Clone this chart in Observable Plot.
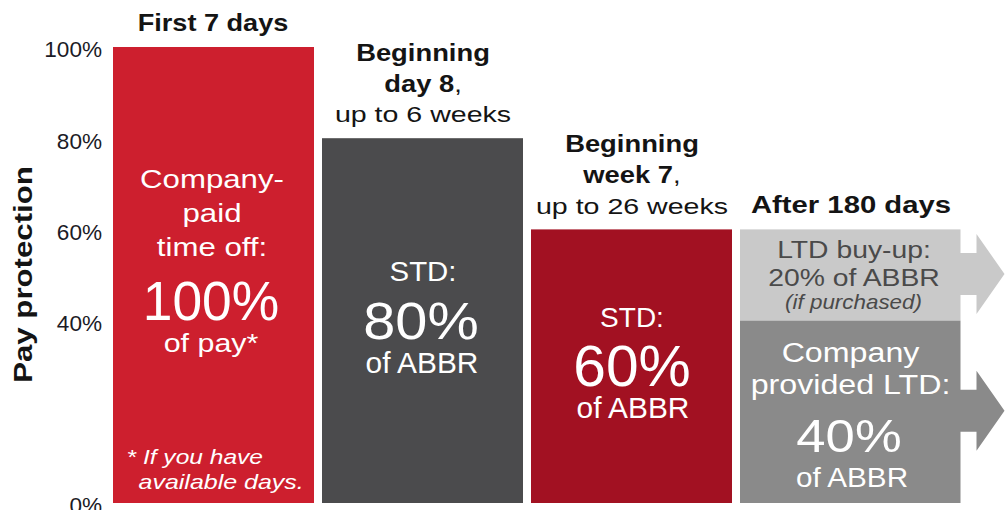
<!DOCTYPE html>
<html><head><meta charset="utf-8">
<script src="https://cdn.jsdelivr.net/npm/d3@7"></script>
<script src="https://cdn.jsdelivr.net/npm/@observablehq/plot@0.6"></script>
<style>html,body{margin:0;padding:0;background:#fff;overflow:hidden}</style>
</head><body><div id="chart"></div>
<script>
// ---------- data ----------
const columns = ["First 7 days", "Beginning day 8", "Beginning week 7", "After 180 days"];
const segColumn = ["First 7 days", "Beginning day 8", "Beginning week 7", "After 180 days", "After 180 days"];
const segLow = [0, 0, 0, 40, 0];
const segHigh = [100, 80, 60, 60, 40];
const yTicks = [0, 40, 60, 80, 100];
const yTitle = "Pay protection";
const headerBold = ["First 7 days", "Beginning\nday 8,", "Beginning\nweek 7,", "After 180 days"];
const headerSub = ["", "up to 6 weeks", "up to 26 weeks", ""];
const segTitle = ["Company-\npaid\ntime off:", "STD:", "STD:", "LTD buy-up:\n20% of ABBR", "Company\nprovided LTD:"];
const segValue = ["100%", "80%", "60%", "", "40%"];
const segUnit = ["of pay*", "of ABBR", "of ABBR", "(if purchased)", "of ABBR"];
const footnote = ["* If you have", "available days."];

// ---------- styles ----------
const FILL = ["#cd1f2e", "#4b4b4d", "#a21122", "#c9c9c9", "#8a8a8a"];
const INK = "#141414";
const segs = segColumn.map((c, i) => ({i, column: c, low: segLow[i], high: segHigh[i]}));

// label specs: seg index, anchor, text, styling/offsets
const specs = [
  {seg: 0, text: headerBold[0], size: 24, bold: true, fill: INK, dy: -16.5, dx: -1, sx: 1.13},
  {seg: 1, text: headerBold[1], size: 24, bold: true, fill: INK, dy: -46.5, lh: 1.28, sx: 1.14},
  {seg: 1, text: headerSub[1], size: 22.5, fill: INK, dy: -16.3, sx: 1.27},
  {seg: 2, text: headerBold[2], size: 24, bold: true, fill: INK, dy: -46.5, lh: 1.3, sx: 1.14},
  {seg: 2, text: headerSub[2], size: 22.5, fill: INK, dy: -16.3, sx: 1.27},
  {seg: 3, text: headerBold[3], size: 24, bold: true, fill: INK, dy: -16.5, dx: 10, sx: 1.22},

  {seg: 0, text: segTitle[0], size: 26, lh: 1.29, dy: 208, dx: -2, sx: 1.2},
  {seg: 0, text: segValue[0], size: 55, dy: 272, dx: -3, sx: 0.97},
  {seg: 0, text: segUnit[0], size: 26, dy: 304, dx: -3, sx: 1.17},
  {seg: 0, anchor: "bottom", text: footnote[0], size: 21, italic: true, start: true, dy: -40, dx: -87.5, sx: 1.17},
  {seg: 0, anchor: "bottom", text: footnote[1], size: 21, italic: true, start: true, dy: -15, dx: -75.5, sx: 1.19},

  {seg: 1, text: segTitle[1], size: 28, dy: 142.7, sx: 1.05},
  {seg: 1, text: segValue[1], size: 52, dy: 200.7, dx: -2, sx: 1.11},
  {seg: 1, text: segUnit[1], size: 29, dy: 234.3, dx: -1, sx: 1.03},

  {seg: 2, text: segTitle[2], size: 28, dy: 97, sx: 1.0},
  {seg: 2, text: segValue[2], size: 57, dy: 156, sx: 1.03},
  {seg: 2, text: segUnit[2], size: 29, dy: 188, dx: 1, sx: 1.03},

  {seg: 3, text: segTitle[3], size: 24, lh: 1.18, fill: "#4a4a4a", dy: 56, dx: 13, sx: 1.18},
  {seg: 3, text: segUnit[3], size: 20, italic: true, fill: "#4a4a4a", dy: 79, dx: 12.5, sx: 1.12},

  {seg: 4, text: segTitle[4], size: 28, lh: 1.13, dy: 73, dx: 9.5, sx: 1.15},
  {seg: 4, text: segValue[4], size: 47, dy: 131, dx: 8, sx: 1.12},
  {seg: 4, text: segUnit[4], size: 28, dy: 165.5, dx: 11, sx: 1.06}
];

function labelMark(s) {
  return Plot.text([s.seg], {
    x: (j) => segColumn[j],
    y: (j) => (s.anchor === "bottom" ? segLow[j] : segHigh[j]),
    text: () => s.text,
    textAnchor: s.start ? "start" : "middle",
    lineAnchor: "bottom",
    lineHeight: s.lh ?? 1.2,
    fill: s.fill ?? "white",
    fontSize: s.size,
    fontWeight: s.bold ? "bold" : "normal",
    fontStyle: s.italic ? "italic" : "normal",
    dx: s.dx ?? 0,
    dy: s.dy,
    ariaDescription: `sx${s.sx}`
  });
}

const last = columns[3];
const chart = Plot.plot({
  width: 1005,
  height: 510,
  marginTop: 47,
  marginBottom: 7,
  marginLeft: 112,
  marginRight: 63.5,
  style: {fontFamily: "'Liberation Sans', Arial, sans-serif", background: "white", color: "#1b1b26"},
  x: {type: "band", domain: columns, paddingInner: 0.04, paddingOuter: 0, axis: null},
  y: {domain: [0, 100]},
  color: {type: "identity"},
  marks: [
    Plot.barY(segs.filter((d) => d.column !== last), {x: "column", y1: "low", y2: "high", fill: (d) => FILL[d.i]}),
    Plot.barY(segs.filter((d) => d.column === last), {x: "column", y1: "low", y2: "high", fill: (d) => FILL[d.i], insetRight: -19.5, ariaDescription: "ltd-bars"}),
    Plot.axisY(yTicks, {tickSize: 0, tickPadding: 10.5, tickFormat: (d) => d + "%", fontSize: 21.5, dy: 3, label: null, ariaDescription: "sx1.05"}),
    Plot.text([yTitle], {frameAnchor: "left", textAnchor: "middle", text: (d) => d, rotate: -90, fontSize: 26, fontWeight: "bold", fill: INK, dx: -88.6, dy: -1, ariaDescription: "sx1.2"}),
    ...specs.map(labelMark)
  ]
});
document.getElementById("chart").appendChild(chart);

const NS = "http://www.w3.org/2000/svg";
// regular-weight trailing commas in bold headers
chart.querySelectorAll("text, tspan").forEach((el) => {
  if (el.childNodes.length === 1 && el.firstChild.nodeType === 3 && el.textContent.endsWith(",") && el.closest("g").getAttribute("font-weight") === "bold") {
    el.firstChild.nodeValue = el.textContent.slice(0, -1);
    const c = document.createElementNS(NS, "tspan");
    c.setAttribute("font-weight", "normal");
    c.textContent = ",";
    el.appendChild(c);
  }
});
// horizontal text scaling to match the reference's wide type
chart.querySelectorAll("g[aria-description*='sx']").forEach((g) => {
  const s = +g.getAttribute("aria-description").match(/sx([\d.]+)/)[1];
  g.querySelectorAll("text").forEach((t) => {
    t.setAttribute("transform", (t.getAttribute("transform") || "") + ` scale(${s},1)`);
  });
});
// arrows extending the long-term disability segments
chart.querySelectorAll("g[aria-description='ltd-bars'] rect").forEach((r) => {
  const x2 = +r.getAttribute("x") + +r.getAttribute("width");
  const y0 = +r.getAttribute("y"), h = +r.getAttribute("height");
  const yc = y0 + h / 2 - 1;
  const shaft = 21, head = 40, sl = 16, hl = 28;
  const pts = [[x2 - 1, yc - shaft], [x2 + sl, yc - shaft], [x2 + sl, yc - head], [x2 + sl + hl, yc],
               [x2 + sl, yc + head], [x2 + sl, yc + shaft], [x2 - 1, yc + shaft]];
  const p = document.createElementNS(NS, "polygon");
  p.setAttribute("points", pts.map((q) => q.join(",")).join(" "));
  p.setAttribute("fill", r.getAttribute("fill") || r.parentNode.getAttribute("fill"));
  r.parentNode.appendChild(p);
});
</script>
</body></html>
